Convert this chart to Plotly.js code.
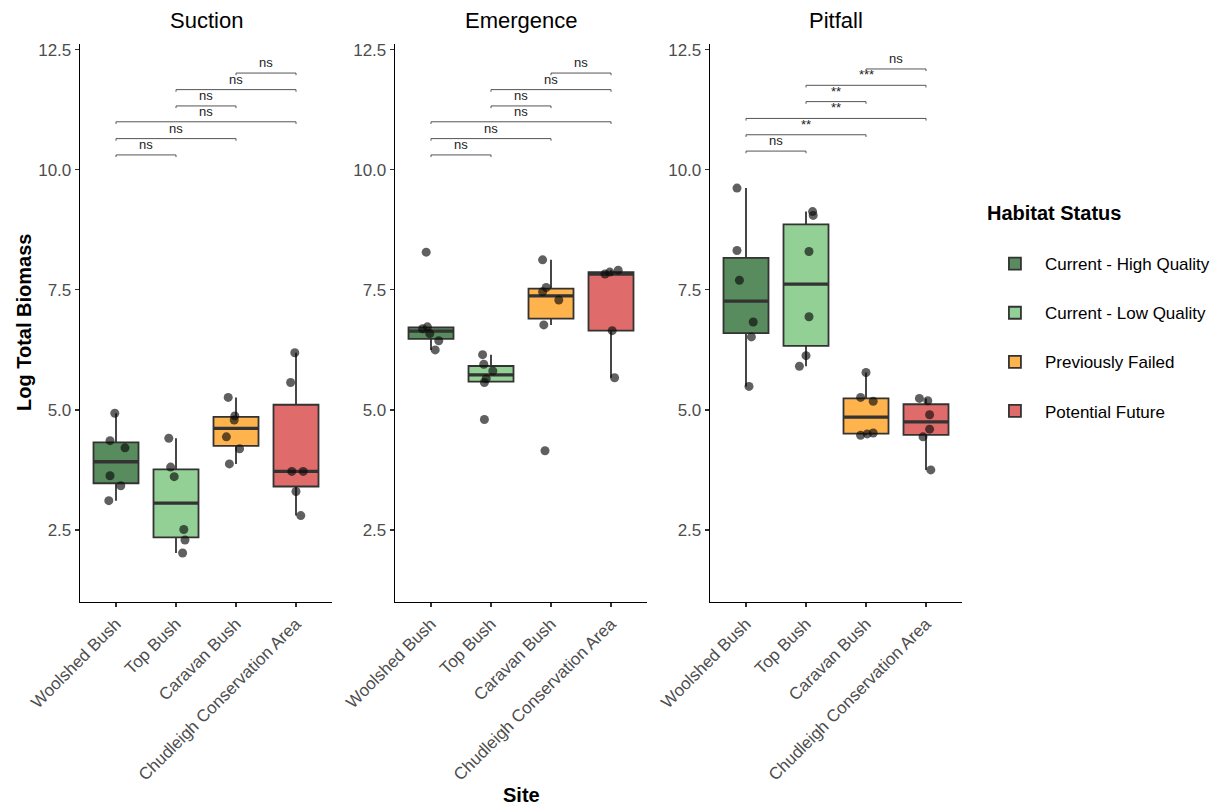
<!DOCTYPE html>
<html><head><meta charset="utf-8">
<script src="https://cdn.plot.ly/plotly-3.0.1.min.js"></script>
<style>html,body{margin:0;padding:0;background:#fff}#chart{width:1220px;height:808px}</style>
</head><body><div id="chart"></div>
<script>
const sites = ['Woolshed Bush', 'Top Bush', 'Caravan Bush', 'Chudleigh Conservation Area'];
const habitats = ['Current - High Quality', 'Current - Low Quality', 'Previously Failed', 'Potential Future'];
const methods = ['Suction', 'Emergence', 'Pitfall'];

// Log total biomass per site (order of sites above)
const suctionValues = [
  [4.93, 4.36, 4.21, 3.63, 3.42, 3.11],
  [4.41, 3.81, 3.61, 2.51, 2.29, 2.02],
  [5.26, 4.875, 4.79, 4.44, 4.19, 3.875],
  [6.19, 5.57, 3.72, 3.72, 3.30, 2.80]
];
const emergenceValues = [
  [8.285, 6.73, 6.69, 6.59, 6.44, 6.25],
  [6.15, 5.95, 5.81, 5.65, 5.57, 4.80],
  [8.125, 7.55, 7.46, 7.29, 6.77, 4.15],
  [7.83, 7.87, 7.91, 6.65, 5.67]
];
const pitfallValues = [
  [9.62, 8.32, 7.70, 6.83, 6.52, 5.49],
  [9.13, 9.05, 8.30, 6.94, 6.13, 5.91],
  [5.78, 5.26, 5.18, 4.47, 4.50, 4.52],
  [5.24, 5.19, 4.90, 4.60, 4.44, 3.75]
];
// horizontal jitter of each point (category units)
const suctionJitter = [
  [-0.02, -0.10, 0.15, -0.10, 0.08, -0.12],
  [-0.12, -0.09, -0.03, 0.13, 0.15, 0.11],
  [-0.13, -0.02, -0.03, -0.16, 0.06, -0.11],
  [-0.02, -0.09, -0.07, 0.12, 0.00, 0.08]
];
const emergenceJitter = [
  [-0.08, -0.06, -0.14, -0.02, 0.13, 0.07],
  [-0.14, -0.12, 0.03, -0.08, -0.11, -0.11],
  [-0.14, -0.08, -0.14, 0.13, -0.12, -0.10],
  [-0.10, -0.02, 0.12, 0.02, 0.06]
];
const pitfallJitter = [
  [-0.15, -0.15, -0.11, 0.12, 0.09, 0.05],
  [0.11, 0.12, 0.05, 0.05, 0.00, -0.11],
  [0.00, -0.09, 0.12, -0.09, 0.02, 0.12],
  [-0.11, 0.03, 0.06, 0.06, -0.05, 0.08]
];

// pairwise comparison brackets
const bracketFrom = [3, 2, 2, 1, 1, 1];
const bracketTo = [4, 4, 3, 4, 3, 2];
const suctionBracketY = [12.015, 11.67, 11.33, 11.0, 10.65, 10.31];
const emergenceBracketY = [12.015, 11.67, 11.33, 11.0, 10.65, 10.31];
const pitfallBracketY = [12.10, 11.76, 11.42, 11.07, 10.73, 10.39];
const suctionLabels = ['ns', 'ns', 'ns', 'ns', 'ns', 'ns'];
const emergenceLabels = ['ns', 'ns', 'ns', 'ns', 'ns', 'ns'];
const pitfallLabels = ['ns', '***', '**', '**', '**', 'ns'];

const yTicks = [2.5, 5.0, 7.5, 10.0, 12.5];

const fills = ['#588B5D', '#92D096', '#FFB34D', '#E06B6B'];
const FONT = 'Liberation Sans, Arial, sans-serif';

const allValues = [suctionValues, emergenceValues, pitfallValues];
const allJitter = [suctionJitter, emergenceJitter, pitfallJitter];
const allBracketY = [suctionBracketY, emergenceBracketY, pitfallBracketY];
const allLabels = [suctionLabels, emergenceLabels, pitfallLabels];

function q7(s, p) {
  const h = (s.length - 1) * p, lo = Math.floor(h), hi = Math.ceil(h);
  return s[lo] + (h - lo) * (s[hi] - s[lo]);
}
function stats(v) {
  const s = v.slice().sort((a, b) => a - b);
  const q1 = q7(s, 0.25), med = q7(s, 0.5), q3 = q7(s, 0.75), iqr = q3 - q1;
  const lf = Math.min(...s.filter(x => x >= q1 - 1.5 * iqr));
  const uf = Math.max(...s.filter(x => x <= q3 + 1.5 * iqr));
  return {q1, med, q3, lf, uf};
}

const traces = [];
const annotations = [];
const layout = {
  width: 1220, height: 808,
  margin: {l: 80, r: 258, t: 44, b: 206, autoexpand: false},
  paper_bgcolor: '#fff', plot_bgcolor: '#fff',
  font: {family: FONT, color: '#000'},
  showlegend: true,
  legend: {
    x: 1.026, y: 0.731, xanchor: 'left', yanchor: 'top',
    font: {size: 17, family: FONT, color: '#000'},
    title: {text: '<b>Habitat Status</b><br> ', font: {size: 20, family: FONT}},
    itemwidth: 50,
    tracegroupgap: 24, bgcolor: 'rgba(0,0,0,0)'
  },
  hovermode: false
};
const W = 882, pw = 252, gap = 63;

methods.forEach((m, mi) => {
  const xa = 'x' + (mi === 0 ? '' : mi + 1), ya = 'y' + (mi === 0 ? '' : mi + 1);
  const d0 = (mi * (pw + gap)) / W, d1 = (mi * (pw + gap) + pw) / W;
  layout['xaxis' + (mi === 0 ? '' : mi + 1)] = {
    domain: [d0, Math.min(d1, 1)], range: [0.4, 4.6], anchor: ya,
    tickvals: [1, 2, 3, 4], ticktext: sites, tickangle: -45,
    showline: true, linecolor: '#000', linewidth: 1.3, ticks: 'outside', ticklen: 4,
    tickcolor: '#333', tickwidth: 1.2, showgrid: false, zeroline: false,
    tickfont: {size: 17, color: '#4d4d4d', family: FONT}
  };
  layout['yaxis' + (mi === 0 ? '' : mi + 1)] = {
    domain: [0, 1], range: [1.0, 12.62], anchor: xa,
    tickvals: yTicks, tickformat: '.1f',
    showline: true, linecolor: '#000', linewidth: 1.3, ticks: 'outside', ticklen: 4,
    tickcolor: '#333', tickwidth: 1.2, showgrid: false, zeroline: false,
    tickfont: {size: 17, color: '#4d4d4d', family: FONT}
  };
  annotations.push({
    text: m, xref: 'paper', yref: 'paper', x: (d0 + Math.min(d1, 1)) / 2, y: 1,
    xanchor: 'center', yanchor: 'middle', yshift: 24, showarrow: false,
    font: {size: 22, family: FONT, color: '#000'}
  });

  const vals = allValues[mi], jit = allJitter[mi];
  vals.forEach((v, si) => {
    const st = stats(v);
    traces.push({
      type: 'box', xaxis: xa, yaxis: ya, x: [si + 1],
      q1: [st.q1], median: [st.med], q3: [st.q3], lowerfence: [st.lf], upperfence: [st.uf],
      width: 0.75, whiskerwidth: 0, boxpoints: false,
      fillcolor: fills[si], line: {color: '#333333', width: 1.8},
      name: habitats[si], legendgroup: habitats[si], showlegend: mi === 0
    });
    traces.push({
      type: 'box', xaxis: xa, yaxis: ya, x: [si + 1],
      q1: [st.med], median: [st.med], q3: [st.med], lowerfence: [st.med], upperfence: [st.med],
      width: 0.75, whiskerwidth: 0, boxpoints: false,
      fillcolor: 'rgba(0,0,0,0)', line: {color: '#333333', width: 3.4},
      name: habitats[si], legendgroup: habitats[si], showlegend: false
    });
  });
  vals.forEach((v, si) => {
    traces.push({
      type: 'scatter', mode: 'markers', xaxis: xa, yaxis: ya,
      x: v.map((_, k) => si + 1 + jit[si][k]), y: v,
      marker: {size: 9, color: 'rgba(10,10,10,0.65)', line: {width: 0}},
      showlegend: false, legendgroup: habitats[si], hoverinfo: 'skip'
    });
  });
  const by = allBracketY[mi], lab = allLabels[mi], tip = 0.045;
  by.forEach((h, k) => {
    const a = bracketFrom[k], b = bracketTo[k];
    traces.push({
      type: 'scatter', mode: 'lines', xaxis: xa, yaxis: ya,
      x: [a, a, b, b], y: [h - tip, h, h, h - tip],
      line: {color: '#555555', width: 1}, showlegend: false, hoverinfo: 'skip'
    });
    annotations.push({
      text: lab[k], xref: xa, yref: ya, x: (a + b) / 2, y: h,
      xanchor: 'center', yanchor: 'bottom', yshift: 1, showarrow: false,
      font: {size: 13, family: FONT, color: '#222'}
    });
  });
});

annotations.push({
  text: '<b>Site</b>', xref: 'paper', yref: 'paper', x: 0.5, y: (602 - 795) / 558,
  xanchor: 'center', yanchor: 'middle', showarrow: false,
  font: {size: 20, family: FONT, color: '#000'}
});
annotations.push({
  text: '<b>Log Total Biomass</b>', xref: 'paper', yref: 'paper', x: (24 - 80) / W, y: 0.5,
  xanchor: 'center', yanchor: 'middle', textangle: -90, showarrow: false,
  font: {size: 20, family: FONT, color: '#000'}
});
layout.annotations = annotations;

Plotly.newPlot('chart', traces, layout, {displayModeBar: false, staticPlot: true});
</script>
</body></html>
